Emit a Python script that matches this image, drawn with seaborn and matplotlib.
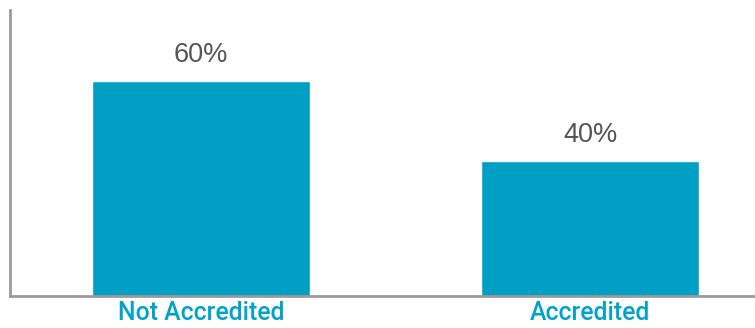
import matplotlib
matplotlib.use("Agg")
import matplotlib.pyplot as plt
import seaborn as sns
import pandas as pd

categories = ["Not Accredited", "Accredited"]
values = [60, 40]
value_labels = ["60%", "40%"]

sns.set_theme(style="white")
plt.rcParams['font.family'] = ['Liberation Sans', 'DejaVu Sans']

df = pd.DataFrame({"category": categories, "value": values})

fig = plt.figure(figsize=(7.55, 3.28), dpi=100)
ax = fig.add_axes([10/755, 32/328, 745/755, 286/328])

bar_color = "#009FC3"
sns.barplot(data=df, x="category", y="value", color=bar_color, width=0.56,
            saturation=1, ax=ax)

ax.set_ylim(6.25, 77.75)
ax.set_xlim(-0.491, 1.424)

for i, (v, lab) in enumerate(zip(values, value_labels)):
    ax.text(i, v + 3.2, lab, ha="center", va="bottom", fontsize=19.5, color="#555555")

ax.set_xlabel("")
ax.set_ylabel("")
ax.set_yticks([])
ax.tick_params(axis="x", length=0, pad=3.5)
for t in ax.get_xticklabels():
    t.set_fontfamily(['Roboto', 'Liberation Sans'])
    t.set_fontweight('medium')
    t.set_fontsize(17.8)
    t.set_color("#00A3C9")
for s in ["top", "right"]:
    ax.spines[s].set_visible(False)
for s in ["left", "bottom"]:
    ax.spines[s].set_color("#9A9A9A")
    ax.spines[s].set_linewidth(2)

fig.savefig("out.png", dpi=100)
